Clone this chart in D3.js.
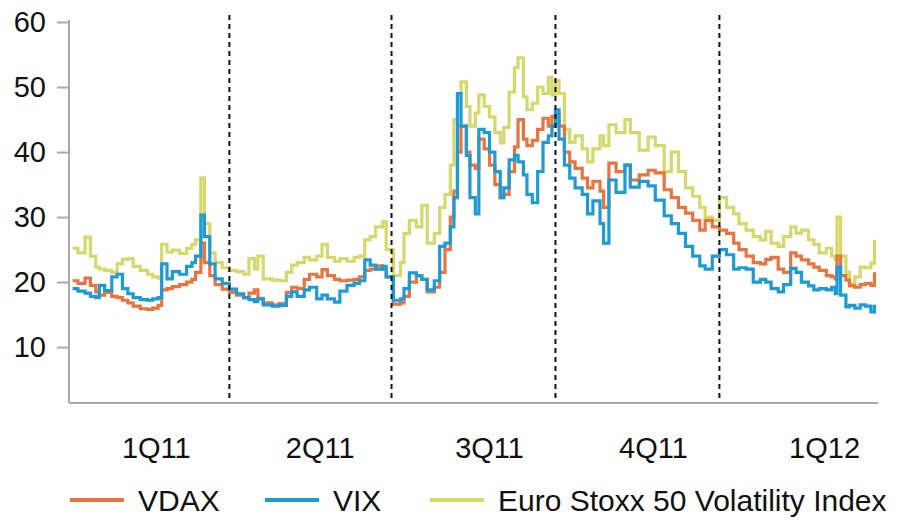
<!DOCTYPE html>
<html>
<head>
<meta charset="utf-8">
<script src="https://cdn.jsdelivr.net/npm/d3@7"></script>
<style>
  body { margin: 0; background: #fff; }
  svg { display: block; font-family: "Liberation Sans", Arial, sans-serif; }
  .axis path, .axis line { stroke: #aaa; stroke-width: 2; }
</style>
</head>
<body>
<svg id="chart" width="898" height="524"></svg>
<script>
var dates = [
  '2011-01-03', '2011-01-06', '2011-01-10', '2011-01-13', '2011-01-16', '2011-01-18', '2011-01-21', '2011-01-25',
  '2011-01-28', '2011-01-31', '2011-02-03', '2011-02-06', '2011-02-10', '2011-02-14', '2011-02-17', '2011-02-20',
  '2011-02-22', '2011-02-25', '2011-02-28', '2011-03-04', '2011-03-08', '2011-03-11', '2011-03-13', '2011-03-16',
  '2011-03-18', '2011-03-21', '2011-03-24', '2011-03-28', '2011-04-01', '2011-04-05', '2011-04-09', '2011-04-12',
  '2011-04-15', '2011-04-17', '2011-04-20', '2011-04-25', '2011-04-29', '2011-05-03', '2011-05-06', '2011-05-09',
  '2011-05-13', '2011-05-16', '2011-05-20', '2011-05-23', '2011-05-26', '2011-05-30', '2011-06-02', '2011-06-06',
  '2011-06-10', '2011-06-13', '2011-06-16', '2011-06-19', '2011-06-22', '2011-06-26', '2011-06-28', '2011-07-02',
  '2011-07-06', '2011-07-08', '2011-07-11', '2011-07-15', '2011-07-18', '2011-07-21', '2011-07-25', '2011-07-28',
  '2011-07-31', '2011-08-03', '2011-08-05', '2011-08-07', '2011-08-09', '2011-08-12', '2011-08-14', '2011-08-17',
  '2011-08-19', '2011-08-22', '2011-08-25', '2011-08-28', '2011-08-31', '2011-09-02', '2011-09-05', '2011-09-08',
  '2011-09-10', '2011-09-13', '2011-09-15', '2011-09-18', '2011-09-21', '2011-09-24', '2011-09-27', '2011-09-29',
  '2011-10-01', '2011-10-03', '2011-10-06', '2011-10-09', '2011-10-12', '2011-10-16', '2011-10-19', '2011-10-22',
  '2011-10-26', '2011-10-28', '2011-10-31', '2011-11-04', '2011-11-09', '2011-11-12', '2011-11-17', '2011-11-22',
  '2011-11-26', '2011-12-01', '2011-12-05', '2011-12-09', '2011-12-13', '2011-12-17', '2011-12-21', '2011-12-24',
  '2011-12-28', '2012-01-01', '2012-01-05', '2012-01-09', '2012-01-12', '2012-01-16', '2012-01-20', '2012-01-24',
  '2012-01-27', '2012-01-30', '2012-02-03', '2012-02-06', '2012-02-10', '2012-02-13', '2012-02-16', '2012-02-20',
  '2012-02-23', '2012-02-26', '2012-03-01', '2012-03-04', '2012-03-06', '2012-03-07', '2012-03-09', '2012-03-12',
  '2012-03-14', '2012-03-17', '2012-03-20', '2012-03-23', '2012-03-26', '2012-03-28'
]

var vdax = [
  20.2, 19.8, 20.6, 19.5, 18.5, 18.0, 18.4, 17.8, 17.6, 17.2, 16.8, 16.3, 15.9, 15.8, 16.0, 16.4,
  18.8, 19.0, 19.3, 19.6, 20.0, 20.4, 21.5, 26.0, 23.0, 21.0, 19.6, 18.9, 18.4, 18.0, 17.6, 18.3,
  18.8, 17.5, 16.8, 16.5, 16.7, 18.4, 19.2, 19.0, 20.4, 21.2, 20.8, 21.9, 21.0, 20.4, 20.2, 20.3,
  20.4, 20.8, 21.8, 22.0, 22.5, 22.0, 20.8, 16.6, 16.8, 17.8, 20.0, 21.0, 20.4, 18.5, 19.2, 21.5,
  25.0, 30.0, 34.0, 40.0, 44.0, 40.0, 38.0, 37.5, 42.0, 40.5, 38.0, 35.0, 33.0, 33.5, 37.0, 40.8,
  45.0, 42.0, 41.0, 41.8, 43.5, 45.2, 44.0, 45.5, 46.0, 44.0, 40.0, 38.5, 37.5, 36.0, 34.5, 35.5,
  34.0, 31.5, 38.3, 37.0, 38.0, 35.7, 36.5, 37.2, 36.8, 34.2, 33.0, 31.5, 30.6, 29.5, 28.0, 29.5,
  28.5, 28.0, 27.5, 26.0, 25.0, 24.0, 23.0, 22.8, 23.5, 23.8, 22.0, 21.5, 24.5, 24.0, 23.4, 22.8,
  22.3, 21.8, 21.0, 20.8, 20.5, 24.0, 21.0, 20.3, 19.4, 19.2, 19.6, 19.8, 19.5, 21.5
]

var vix = [
  19.0, 18.6, 18.3, 17.8, 17.6, 19.5, 18.7, 20.8, 21.2, 19.0, 18.2, 17.6, 17.3, 17.2, 17.4, 17.6,
  22.8, 20.5, 21.6, 21.2, 22.4, 23.0, 24.0, 30.3, 27.0, 22.8, 20.5, 19.8, 18.9, 18.2, 17.6, 17.3,
  17.0, 17.4, 16.5, 16.3, 16.4, 17.8, 18.5, 17.8, 18.8, 19.2, 17.4, 18.0, 17.4, 16.9, 18.6, 19.5,
  19.8, 20.2, 23.4, 22.6, 22.0, 22.4, 20.8, 17.2, 17.4, 19.0, 21.4, 21.0, 20.4, 18.8, 20.2, 25.5,
  26.0, 28.5, 33.0, 49.0, 44.0, 39.5, 33.0, 30.5, 43.5, 43.0, 40.0, 37.0, 33.0, 34.5, 38.8, 39.5,
  38.5, 36.5, 33.5, 32.2, 37.0, 41.5, 42.5, 44.0, 46.5, 42.0, 38.0, 36.0, 34.5, 33.5, 30.5, 32.5,
  29.0, 26.0, 35.7, 33.8, 38.0, 34.6, 35.5, 34.8, 32.6, 30.2, 29.0, 27.5, 25.5, 24.0, 22.5, 22.0,
  24.0, 25.0, 24.2, 22.0, 22.2, 22.0, 20.0, 20.4, 20.0, 19.0, 18.5, 19.6, 22.1, 21.5, 20.0, 19.4,
  18.8, 19.0, 18.8, 19.2, 18.2, 22.3, 18.0, 16.2, 16.4, 16.0, 16.5, 16.3, 15.4, 16.5
]

var stoxx = [
  25.2, 24.5, 26.9, 24.0, 22.3, 22.0, 21.8, 21.5, 22.8, 23.5, 23.6, 22.4, 21.8, 21.2, 20.8, 20.6,
  25.8, 24.6, 24.9, 24.4, 25.2, 25.8, 26.5, 36.0, 29.0, 24.5, 23.0, 22.2, 21.8, 21.6, 21.2, 23.6,
  22.0, 24.0, 20.5, 20.3, 20.2, 21.5, 22.6, 23.0, 23.8, 23.4, 24.0, 25.8, 23.8, 23.2, 23.6, 23.2,
  23.8, 24.0, 26.5, 27.0, 28.5, 29.3, 25.0, 21.0, 23.0, 27.5, 29.5, 28.5, 31.8, 26.0, 27.5, 31.5,
  33.5, 38.0, 45.0, 49.0, 50.8, 47.0, 44.0, 46.0, 48.8, 47.0, 45.4, 43.0, 41.4, 43.8, 49.2, 53.0,
  54.5, 48.5, 46.5, 47.5, 50.0, 49.0, 51.5, 48.8, 51.0, 49.0, 43.5, 41.5, 42.5, 40.5, 38.5, 40.5,
  42.5, 41.0, 44.2, 43.0, 45.0, 43.0, 40.3, 42.3, 41.0, 37.0, 40.0, 37.0, 34.5, 33.2, 31.5, 30.0,
  29.5, 33.0, 31.5, 30.5, 29.0, 28.0, 27.0, 26.5, 27.8, 26.0, 25.5, 27.0, 28.5, 27.5, 28.0, 26.5,
  25.8, 24.5, 25.2, 24.0, 23.4, 30.0, 24.0, 21.5, 19.8, 20.8, 22.3, 22.2, 22.9, 26.5
]

var seriesNames = ['VDAX', 'VIX', 'Euro Stoxx 50 Volatility Index']
var seriesColors = ['#e8743f', '#1e9bd4', '#d5d86a']

var quarterBreaks = ['2011-04-01', '2011-07-01', '2011-10-01', '2012-01-01']
var quarterLabels = ['1Q11', '2Q11', '3Q11', '4Q11', '1Q12']
var quarterLabelDates = ['2011-02-19', '2011-05-22', '2011-08-25', '2011-11-25', '2012-02-29']

var yTicks = [10, 20, 30, 40, 50, 60]

var parse = d3.timeParse('%Y-%m-%d')
var svg = d3.select('#chart')

var x = d3.scaleTime()
  .domain([parse('2011-01-01'), parse('2012-03-30')])
  .range([69, 878])

var y = d3.scaleLinear()
  .domain([1.4, 60])
  .range([403, 22])

// draw order: stoxx at the back, vix on top
var drawOrder = [2, 0, 1]
var allSeries = [vdax, vix, stoxx]

var line = d3.line()
  .curve(d3.curveStepAfter)
  .x(function (d) { return x(d.date) })
  .y(function (d) { return y(d.value) })

drawOrder.forEach(function (s) {
  var points = dates.map(function (d, i) {
    return { date: parse(d), value: allSeries[s][i] }
  })
  svg.append('path')
    .datum(points)
    .attr('fill', 'none')
    .attr('stroke', seriesColors[s])
    .attr('stroke-width', 3.2)
    .attr('d', line)
})

// quarter dividers
svg.selectAll('.divider')
  .data(quarterBreaks)
  .enter().append('line')
    .attr('class', 'divider')
    .attr('x1', function (d) { return x(parse(d)) })
    .attr('x2', function (d) { return x(parse(d)) })
    .attr('y1', 15)
    .attr('y2', y.range()[0])
    .attr('stroke', '#111')
    .attr('stroke-width', 2)
    .attr('stroke-dasharray', '5,4')

// y axis
var yAxis = svg.append('g')
  .attr('class', 'axis')
  .attr('transform', 'translate(69,0)')
  .call(d3.axisLeft(y).tickValues(yTicks).tickSize(12).tickPadding(11).tickFormat(d3.format('d')))

yAxis.select('.domain').attr('d', 'M0,' + (y(60) - 2) + 'V' + y.range()[0])
yAxis.selectAll('text')
  .attr('fill', '#111')
  .style('font-size', '29px')

// x axis line
svg.append('line')
  .attr('class', 'axis')
  .attr('x1', x.range()[0])
  .attr('x2', x.range()[1])
  .attr('y1', y.range()[0])
  .attr('y2', y.range()[0])
  .attr('stroke', '#aaa')
  .attr('stroke-width', 2)

svg.selectAll('.qlabel')
  .data(quarterLabels)
  .enter().append('text')
    .attr('class', 'qlabel')
    .attr('x', function (d, i) { return x(parse(quarterLabelDates[i])) })
    .attr('y', 458)
    .attr('text-anchor', 'middle')
    .attr('fill', '#111')
    .style('font-size', '29px')
    .text(function (d) { return d })

// legend
var legendX = [70, 265, 430]
var legend = svg.selectAll('.legend')
  .data(seriesNames)
  .enter().append('g')
    .attr('class', 'legend')
    .attr('transform', function (d, i) { return 'translate(' + legendX[i] + ',500)' })

legend.append('line')
  .attr('x1', 0)
  .attr('x2', 54)
  .attr('stroke', function (d, i) { return seriesColors[i] })
  .attr('stroke-width', 4)

legend.append('text')
  .attr('x', 68)
  .attr('y', 11)
  .attr('fill', '#111')
  .style('font-size', '30px')
  .text(function (d) { return d })
</script>
</body>
</html>
